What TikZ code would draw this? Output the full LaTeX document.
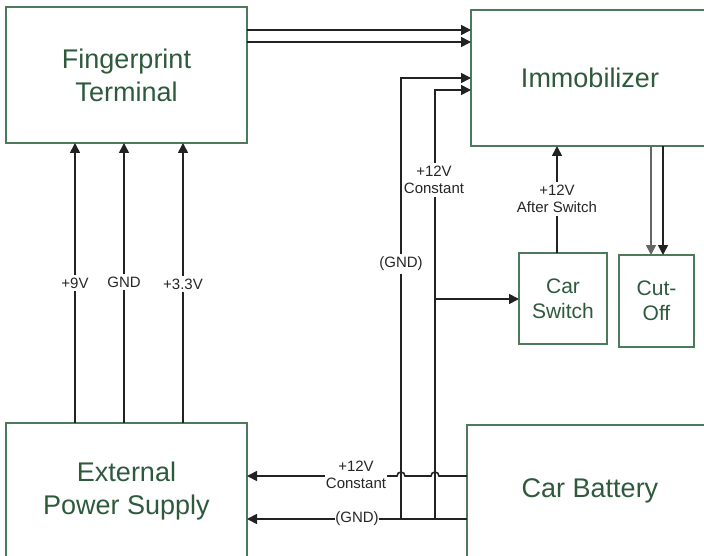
\documentclass[tikz,border=0pt]{standalone}
\usepackage{fontspec}
\setmainfont{Liberation Sans}
\usetikzlibrary{arrows.meta,calc}
\definecolor{boxline}{HTML}{4E7A5C}
\definecolor{boxtext}{HTML}{2E5A3C}
\definecolor{wire}{HTML}{222222}
\definecolor{wiregray}{HTML}{666666}
\tikzset{
  blk/.style={draw=boxline, line width=1.8pt, text=boxtext, align=center, inner sep=0pt, outer sep=0pt},
  bigtext/.style={font=\fontsize{27}{33}\selectfont},
  midtext/.style={font=\fontsize{21}{25}\selectfont},
  lbl/.style={fill=white, inner xsep=1pt, inner ysep=3pt, align=center, text=black!85, font=\fontsize{15}{17}\selectfont},
  wireln/.style={draw=wire, line width=1.6pt},
  arr/.style={wireln, -{Triangle[length=10pt,width=10pt]}},
}
\begin{document}
\begin{tikzpicture}[x=1pt,y=-1pt]
\useasboundingbox (0,0) rectangle (704,556);
\clip (0,0) rectangle (704,556);
% blocks
\node[blk,bigtext,minimum width=241,minimum height=136] (ft) at (126.5,75) {Fingerprint\\Terminal};
\node[blk,bigtext,minimum width=238,minimum height=136] (imm) at (590,78) {Immobilizer};
\node[blk,bigtext,minimum width=241,minimum height=136] (eps) at (126.5,491) {External\\Power Supply};
\node[blk,bigtext,minimum width=246,minimum height=132] (bat) at (590,491) {Car Battery};
\node[blk,midtext,minimum width=88,minimum height=91] (cs) at (563,298.5) {Car\\Switch};
\node[blk,midtext,minimum width=75,minimum height=92] (co) at (656.5,301) {Cut-\\Off};
% fingerprint -> immobilizer
\draw[arr] (ft.east |- 0,30) -- (imm.west |- 0,30);
\draw[arr] (ft.east |- 0,42) -- (imm.west |- 0,42);
% power supply -> fingerprint
\draw[arr] (eps.north -| 75,0) -- (ft.south -| 75,0);
\draw[arr] (eps.north -| 124,0) -- (ft.south -| 124,0);
\draw[arr] (eps.north -| 183,0) -- (ft.south -| 183,0);
% battery wires
\coordinate (g1) at (401,519);
\coordinate (g2) at (435,519);
\coordinate (sw) at (435,299);
\draw[arr] (g1) -- (401,78) -- (imm.west |- 0,78);
\draw[arr] (g2) -- (435,90) -- (imm.west |- 0,90);
\draw[arr] (sw) -- (cs.west |- sw);
\draw[arr] (bat.west |- 0,519) -- (eps.east |- 0,519);
\draw[arr] (bat.west |- 0,476) -- (439,476) arc[start angle=0,end angle=180,radius=4pt]
  -- (405,476) arc[start angle=0,end angle=180,radius=4pt] -- (eps.east |- 0,476);
% car switch -> immobilizer
\draw[arr] (cs.north -| 557,0) -- (imm.south -| 557,0);
% immobilizer -> cut-off
\draw[arr, draw=wiregray] (imm.south -| 651,0) -- (co.north -| 651,0);
\draw[arr] (imm.south -| 663,0) -- (co.north -| 663,0);
% labels
\node[lbl] (l9) at (75,283) {+9V};
\node[lbl] (lg) at (124,282) {GND};
\node[lbl] (l33) at (183,284) {+3.3V};
\node[lbl] (l12a) at (434,180) {+12V\\Constant};
\node[lbl] (lga) at (401,264) {(GND)};
\node[lbl] (las) at (557,199) {+12V\\After Switch};
\node[lbl, inner ysep=1pt] (l12b) at (356,475) {+12V\\Constant};
\node[lbl, inner sep=0.5pt] (lgb) at (357,519) {(GND)};
\end{tikzpicture}
\end{document}
